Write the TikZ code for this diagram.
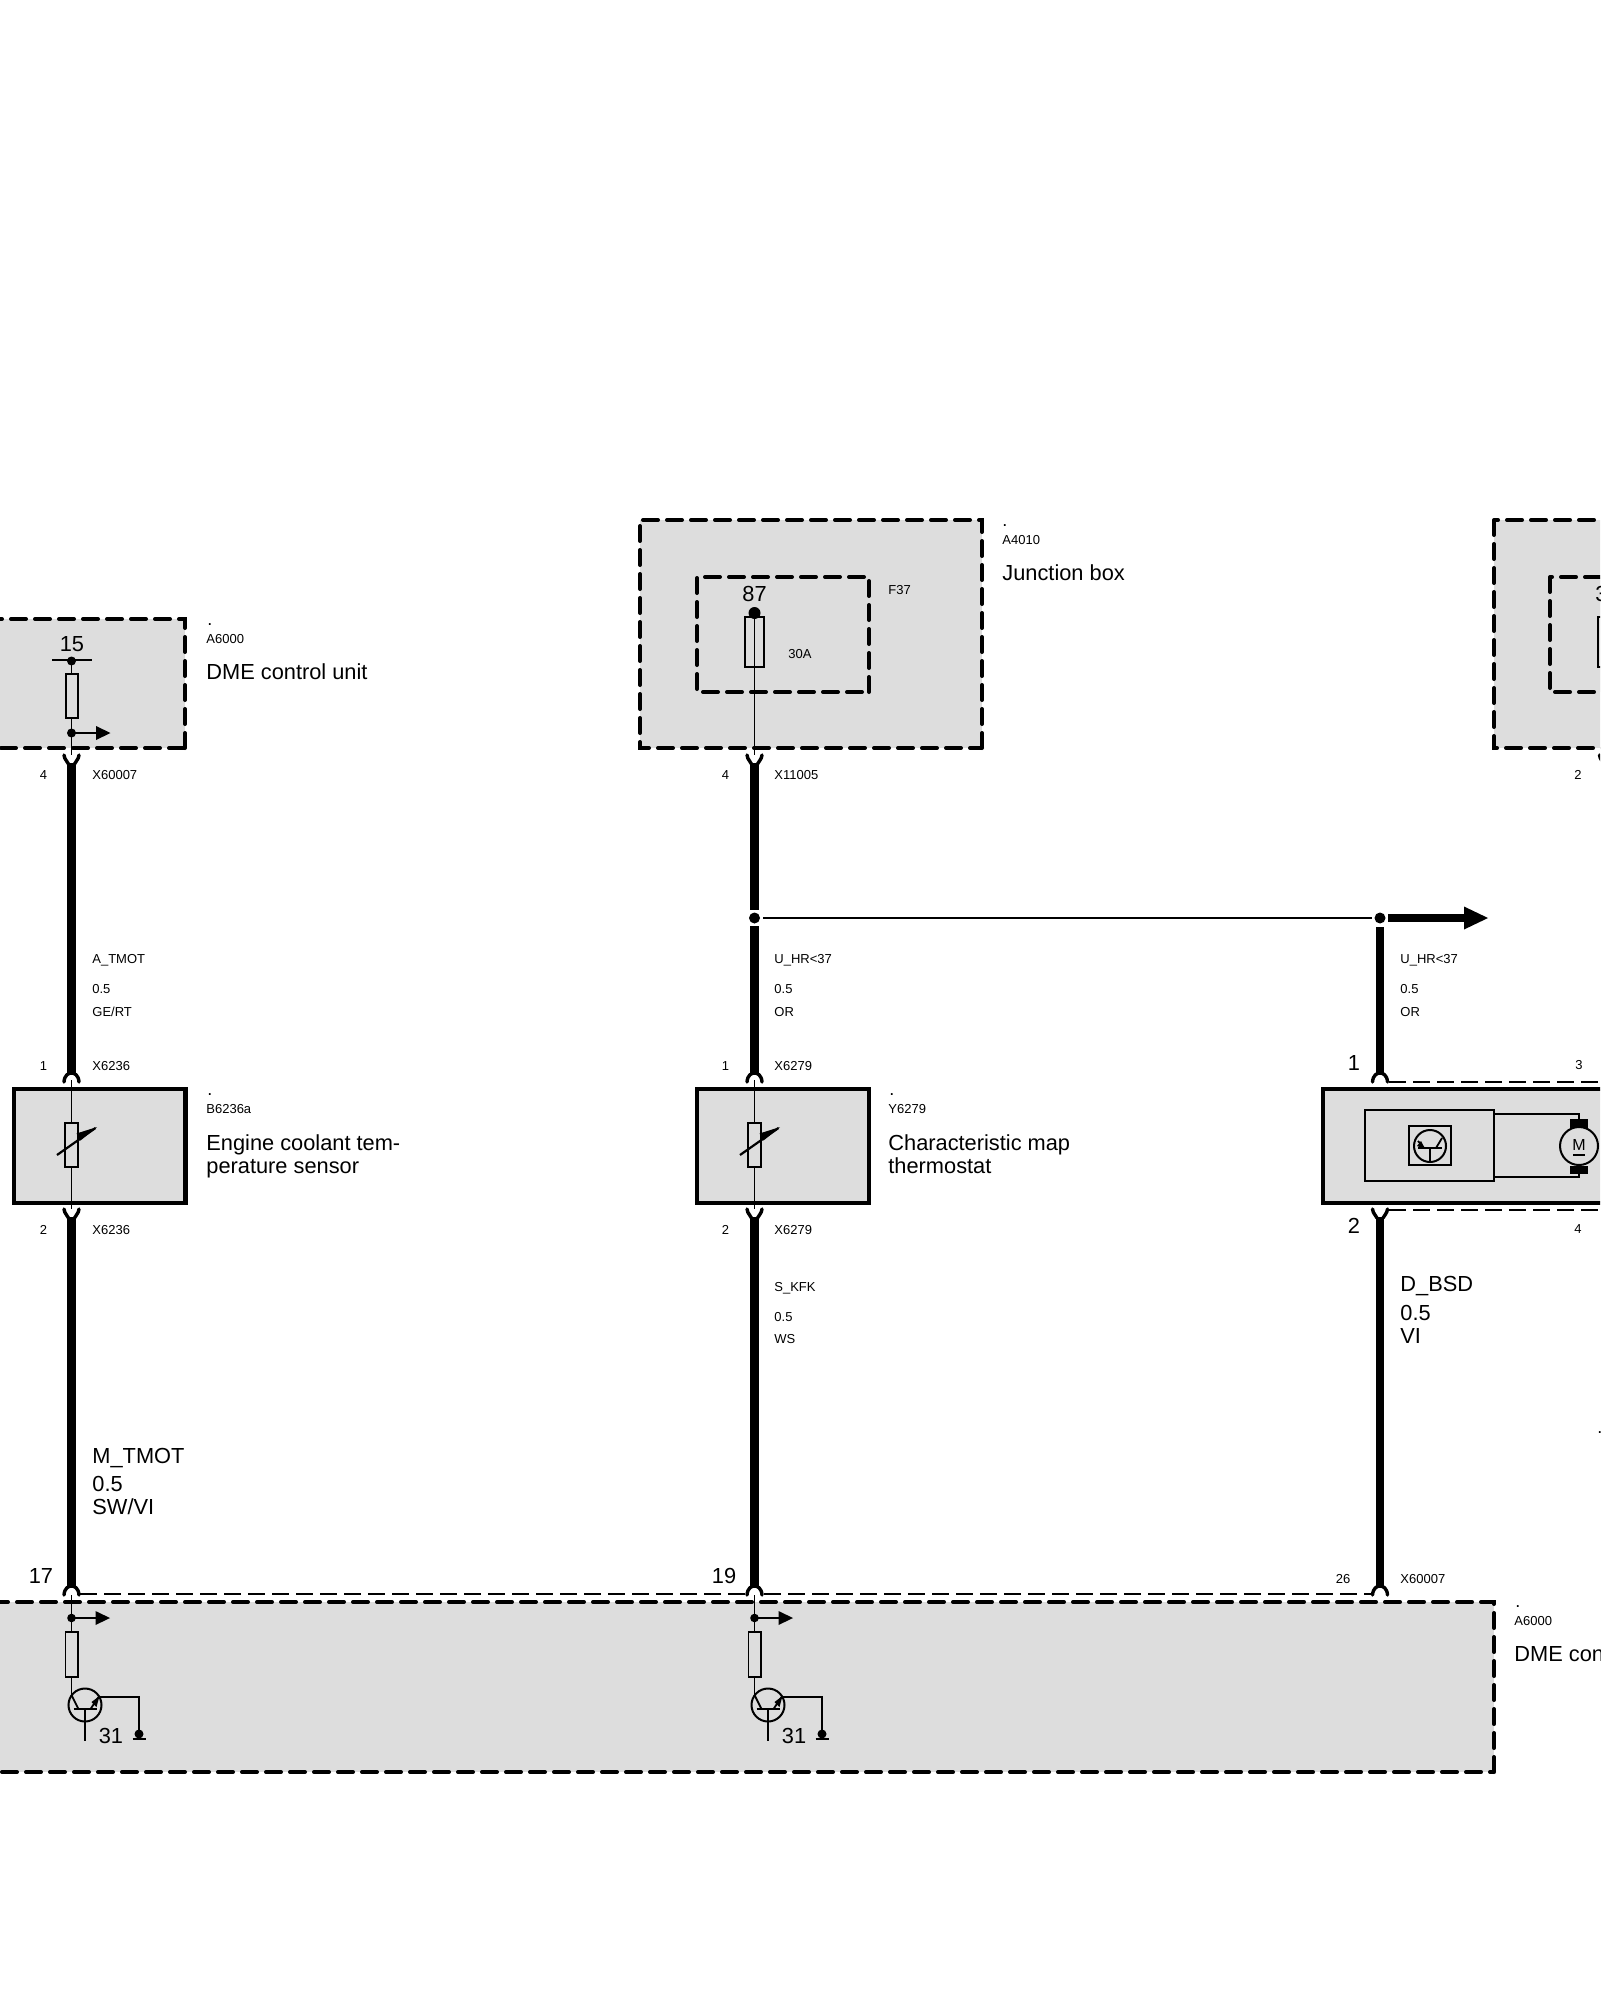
\documentclass[tikz,border=0pt]{standalone}
\usepackage{fontspec}
\setmainfont{Liberation Sans}
\definecolor{boxgray}{HTML}{DDDDDD}
\tikzset{
  txs/.style={font=\fontsize{6.5}{7}\selectfont,inner sep=0pt,text height=4.65pt,text depth=0pt,anchor=west},
  txb/.style={font=\fontsize{10.9}{12}\selectfont,inner sep=0pt,text height=7.8pt,text depth=0pt,anchor=west},
  txbc/.style={txb,anchor=center},
  txsc/.style={txs,anchor=center},
  txdot/.style={font=\fontsize{9}{10}\selectfont,inner sep=0pt,anchor=base west},
  dbox/.style={fill=boxgray,draw=black,line width=2pt,dash pattern=on 7.5pt off 4.5pt,line cap=round,line join=miter},
  sbox/.style={fill=boxgray,draw=black,line width=2.3pt,line join=miter},
  wire/.style={draw=black,line width=4.1pt},
  thin wire/.style={draw=black,line width=.9pt},
  conn dash/.style={draw=black,line width=.7pt,dash pattern=on 8.5pt off 3.5pt},
  fork/.style={draw=black,line width=1.7pt,line cap=round},
  forkup/.pic={\draw[fork] (-7.5,-3) .. controls (-7,2) and (-4,3) .. (-3,6);
               \draw[fork] (7.5,-3) .. controls (7,2) and (4,3) .. (3,6);},
  forkdn/.pic={\draw[fork] (-7.5,4) .. controls (-7,-3) and (-3,-5) .. (0,-5) .. controls (3,-5) and (7,-3) .. (7.5,4);},
  resbox/.style={draw=black,line width=.9pt},
  varres/.pic={
    \draw[resbox,fill=boxgray] (-6.5,-22) rectangle (6.5,22);
    \draw[draw=black,line width=1.1pt] (-14.5,10) -- (24,-17);
    \fill[black] (25.5,-18) -- (9,-4.5) -- (5,-11.5) -- cycle;
  },
  driver/.pic={
    \draw[thin wire] (0,5) -- (0,42);
    \fill[black] (0,28) circle[radius=4.3];
    \draw[thin wire] (0,28) -- (26,28);
    \fill[black] (38.5,28) -- (24,21) -- (24,35) -- cycle;
    \draw[resbox,fill=boxgray] (-6,42) rectangle (6.5,87);
    \draw[thin wire] (0,87) -- (0,105);
    \draw[line width=1pt] (13.5,115) circle[radius=16.5];
    \draw[thin wire] (2,119) -- (25,119);
    \draw[thin wire] (13.5,119) -- (13.5,151);
    \draw[thin wire] (0,105) -- (7,119);
    \draw[thin wire] (19,119) -- (27,107);
    \fill[black] (28,106) -- (25,117) -- (20,112) -- cycle;
    \draw[thin wire] (27,107) -- (67.5,107) -- (67.5,140);
    \fill[black] (67.5,144) circle[radius=4.5];
    \draw[draw=black,line width=1pt] (61,149) -- (74,149);
  },
}
\begin{document}
\begin{tikzpicture}[x=0.5pt,y=-0.5pt]
\clip (0,0) rectangle (1600,2000);

% boxes
\coordinate (dmeTa) at (-30,619);  \coordinate (dmeTb) at (185,748);
\path[dbox] (dmeTb) rectangle (dmeTa);
\coordinate (jbA) at (640,520);  \coordinate (jbB) at (982,748);
\path[dbox] (jbB) rectangle (jbA);
\coordinate (fA) at (697,577);  \coordinate (fB) at (869,692);
\path[dbox] (fB) rectangle (fA);
\coordinate (rbA) at (1494,520);  \coordinate (rbB) at (1640,748);
\path[dbox] (rbA) rectangle (rbB);
\coordinate (rfA) at (1550,577);  \coordinate (rfB) at (1640,692);
\path[dbox] (rfA) rectangle (rfB);
\coordinate (dmeBa) at (-30,1602);  \coordinate (dmeBb) at (1494,1772);
\path[dbox] (dmeBb) rectangle (dmeBa);
\coordinate (s1a) at (14,1089);  \coordinate (s1b) at (185.5,1203);
\path[sbox] (s1a) rectangle (s1b);
\coordinate (s2a) at (697,1089);  \coordinate (s2b) at (869,1203);
\path[sbox] (s2a) rectangle (s2b);
\coordinate (s3a) at (1323,1089);  \coordinate (s3b) at (1660,1203);
\path[sbox] (s3a) rectangle (s3b);

% thin conductors inside the boxes
\coordinate (a1t) at (71.5,661);  \coordinate (a1b) at (71.5,755);
\draw[thin wire] (a1t) -- (a1b);
\coordinate (a2t) at (754.5,613);  \coordinate (a2b) at (754.5,755);
\draw[thin wire] (a2t) -- (a2b);
\coordinate (t1t) at (71.5,1080);  \coordinate (t1b) at (71.5,1209);
\draw[thin wire] (t1t) -- (t1b);
\coordinate (t2t) at (754.5,1080);  \coordinate (t2b) at (754.5,1209);
\draw[thin wire] (t2t) -- (t2b);

% thick wires
\coordinate (w1a) at (71.5,763);  \coordinate (w1b) at (71.5,1074);
\coordinate (w1c) at (71.5,1217);  \coordinate (w1d) at (71.5,1586);
\draw[wire] (w1a) -- (w1b);  \draw[wire] (w1c) -- (w1d);
\coordinate (w2a) at (754.5,763);  \coordinate (w2b) at (754.5,910);
\coordinate (w2c) at (754.5,926);  \coordinate (w2d) at (754.5,1074);
\coordinate (w2e) at (754.5,1217);  \coordinate (w2f) at (754.5,1586);
\draw[wire] (w2a) -- (w2b);  \draw[wire] (w2c) -- (w2d);  \draw[wire] (w2e) -- (w2f);
\coordinate (w3a) at (1380,927);  \coordinate (w3b) at (1380,1074);
\coordinate (w3c) at (1380,1217);  \coordinate (w3d) at (1380,1586);
\draw[wire] (w3a) -- (w3b);  \draw[wire] (w3c) -- (w3d);

% connector dashes
\coordinate (d1) at (80,1594);  \coordinate (d2) at (745,1594);
\coordinate (d3) at (764,1594);  \coordinate (d4) at (1372,1594);
\draw[conn dash] (d1) -- (d2);  \draw[conn dash] (d3) -- (d4);
\coordinate (d5) at (1389,1082);  \coordinate (d6) at (1600,1082);
\coordinate (d7) at (1389,1210);  \coordinate (d8) at (1600,1210);
\draw[conn dash] (d5) -- (d6);  \draw[conn dash] (d7) -- (d8);

% forks
\pic at (71.5,758) {forkup};  \pic at (754.5,758) {forkup};  \pic at (1607,758) {forkup};
\pic at (71.5,1078) {forkdn}; \pic at (754.5,1078) {forkdn}; \pic at (1380,1078) {forkdn};
\pic at (71.5,1212) {forkup}; \pic at (754.5,1212) {forkup}; \pic at (1380,1212) {forkup};
\pic at (71.5,1591) {forkdn}; \pic at (754.5,1591) {forkdn}; \pic at (1380,1591) {forkdn};

% branch
\coordinate (j1) at (754.5,918);  \coordinate (j2) at (1380,918);
\coordinate (j1r) at (763,918);  \coordinate (j2l) at (1372,918);
\draw[draw=black,line width=.9pt] (j1r) -- (j2l);
\fill[black] (j1) circle[radius=5.5];
\fill[black] (j2) circle[radius=5.5];
\coordinate (arA) at (1388,918);  \coordinate (arB) at (1466,918);
\draw[draw=black,line width=3.8pt] (arA) -- (arB);
\fill[black] (1488,918) -- (1464,906.5) -- (1464,929.5) -- cycle;

% top DME internals
\draw[draw=black,line width=1pt] (52,660) -- (92,660);
\fill[black] (a1t) circle[radius=4.5];
\draw[resbox,fill=boxgray] (66,674) rectangle (78,718);
\fill[black] (71.5,733) circle[radius=4.5];
\draw[thin wire] (71.5,733) -- (97,733);
\fill[black] (110.5,733) -- (96,726) -- (96,740) -- cycle;

% fuse
\fill[black] (a2t) circle[radius=6];
\draw[resbox] (745,617) rectangle (764,667);
\draw[resbox] (1598,617) rectangle (1617,667);

% sensors
\pic at (71.5,1145) {varres};
\pic at (754.5,1145) {varres};

% lower DME drivers
\pic at (71.5,1590) {driver};
\pic at (754.5,1590) {driver};

% right-hand unit
\coordinate (ctA) at (1365,1110);  \coordinate (ctB) at (1494,1181);
\draw[draw=black,line width=1pt] (ctA) rectangle (ctB);
\coordinate (sqA) at (1409,1126);  \coordinate (sqB) at (1451,1165);
\draw[draw=black,line width=1pt] (sqA) rectangle (sqB);
\draw[draw=black,line width=1pt] (1430,1146) circle[radius=16];
\draw[draw=black,line width=.9pt] (1418,1148) -- (1442,1148);
\draw[draw=black,line width=.9pt] (1430,1148) -- (1430,1162);
\draw[draw=black,line width=.9pt] (1436,1148) -- (1442,1138);
\draw[draw=black,line width=.9pt] (1418,1141) -- (1424,1148);
\fill[black] (1425,1149) -- (1417,1146) -- (1421,1141) -- cycle;
\coordinate (mo) at (1579,1146);
\coordinate (mt) at (1579,1114);  \coordinate (mb) at (1579,1177);
\draw[draw=black,line width=1pt] (1494,1114) -- (mt) -- (1579,1120);
\draw[draw=black,line width=1pt] (1494,1177) -- (mb) -- (1579,1172);
\draw[draw=black,line width=1pt] (mo) circle[radius=19];
\fill[black] (1570,1119) rectangle (1588,1128);
\fill[black] (1570,1166) rectangle (1588,1174);
\node[txs,anchor=center,font=\fontsize{8}{9}\selectfont,text height=5.7pt] (mM) at (1579,1145) {M};
\draw[draw=black,line width=.7pt] (1573,1155) -- (1585,1155);

% labels, DME top
\node[txbc] (l15) at (72,644) {15};
\node[txdot] (ldA) at (207,625) {.};
\node[txs] (lA6k) at (206,638.5) {A6000};
\node[txb] (lDME) at (206,672) {DME control unit};
\node[txsc] (p4a) at (43.5,775) {4};
\node[txs] (xa) at (92,775) {X60007};
% wire 1
\node[txs] (n1) at (92,959) {A\_TMOT};
\node[txs] (n2) at (92,989) {0.5};
\node[txs] (n3) at (92,1012) {GE/RT};
\node[txsc] (p1a) at (43.5,1066) {1};
\node[txs] (xb) at (92,1066) {X6236};
\node[txdot] (ldB) at (207,1095) {.};
\node[txs] (lB) at (206,1109) {B6236a};
\node[txb] (lC1) at (206,1142.5) {Engine coolant tem-};
\node[txb] (lC2) at (206,1165.5) {perature sensor};
\node[txsc] (p2a) at (43.5,1230) {2};
\node[txs] (xc) at (92,1230) {X6236};
\node[txb] (m1) at (92,1456) {M\_TMOT};
\node[txb] (m2) at (92,1484) {0.5};
\node[txb] (m3) at (92,1507) {SW/VI};
\node[txbc] (p17) at (41,1576) {17};
\node[txbc] (p31a) at (111,1736) {31};
% junction box
\node[txdot] (ldC) at (1002,526) {.};
\node[txs] (lA41) at (1002,540) {A4010};
\node[txb] (lJB) at (1002,573) {Junction box};
\node[txs] (lF) at (888,590) {F37};
\node[txs] (l30) at (788,654) {30A};
\node[txbc] (l87) at (754.5,594) {87};
\node[txsc] (p4b) at (725.5,775) {4};
\node[txs] (xd) at (774,775) {X11005};
% wire 2
\node[txs] (o1) at (774,959) {U\_HR<37};
\node[txs] (o2) at (774,989) {0.5};
\node[txs] (o3) at (774,1012) {OR};
\node[txsc] (p1b) at (725.5,1066) {1};
\node[txs] (xe) at (774,1066) {X6279};
\node[txdot] (ldD) at (889,1095) {.};
\node[txs] (lY) at (888,1109) {Y6279};
\node[txb] (lT1) at (888,1142.5) {Characteristic map};
\node[txb] (lT2) at (888,1165.5) {thermostat};
\node[txsc] (p2b) at (725.5,1230) {2};
\node[txs] (xf) at (774,1230) {X6279};
\node[txs] (q1) at (774,1287) {S\_KFK};
\node[txs] (q2) at (774,1317) {0.5};
\node[txs] (q3) at (774,1339) {WS};
\node[txbc] (p19) at (724,1576) {19};
\node[txbc] (p31b) at (794,1736) {31};
% wire 3
\node[txs] (r1) at (1400,959) {U\_HR<37};
\node[txs] (r2) at (1400,989) {0.5};
\node[txs] (r3) at (1400,1012) {OR};
\node[txbc] (p1c) at (1354,1063) {1};
\node[txsc] (p3) at (1579,1065) {3};
\node[txbc] (p2c) at (1354,1226) {2};
\node[txsc] (p4c) at (1578,1229) {4};
\node[txb] (v1) at (1400,1284) {D\_BSD};
\node[txb] (v2) at (1400,1313) {0.5};
\node[txb] (v3) at (1400,1336) {VI};
\node[txsc] (p26) at (1343,1579) {26};
\node[txs] (xg) at (1400,1579) {X60007};
\node[txdot] (ldE) at (1515,1607) {.};
\node[txs] (lA6b) at (1514,1620.5) {A6000};
\node[txb] (lDMEb) at (1514,1654) {DME control unit};
% right edge
\node[txb] (l3x) at (1595,594) {3};
\node[txsc] (p2d) at (1578,775) {2};
\node[txdot] (ldF) at (1597,1433) {.};
\end{tikzpicture}
\end{document}
